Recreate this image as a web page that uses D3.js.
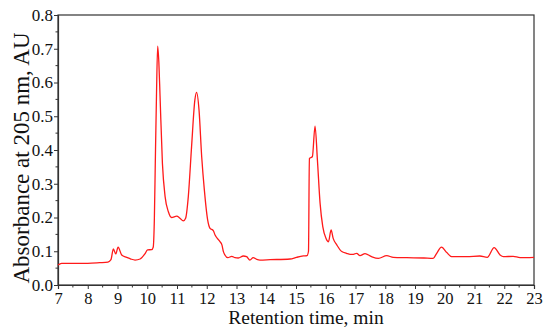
<!DOCTYPE html>
<html><head><meta charset="utf-8">
<script src="https://cdn.jsdelivr.net/npm/d3@7"></script>
<style>body{margin:0;background:#fff}svg{display:block}</style>
</head><body>
<svg id="c" width="550" height="335"></svg>
<script>
const times = [7.0,7.12,7.5,8.0,8.4,8.68,8.78,8.86,8.94,9.02,9.14,9.31,9.45,9.59,9.76,9.92,10.01,10.15,10.2,10.24,10.27,10.31,10.35,10.39,10.43,10.51,10.6,10.71,10.82,10.99,11.1,11.21,11.29,11.38,11.49,11.6,11.66,11.74,11.83,11.92,12.03,12.11,12.22,12.28,12.45,12.51,12.56,12.61,12.71,12.84,12.95,13.06,13.23,13.34,13.45,13.56,13.68,13.79,14.13,14.8,15.02,15.25,15.37,15.42,15.45,15.55,15.64,15.72,15.81,15.9,16.01,16.09,16.18,16.25,16.37,16.54,16.7,16.82,16.93,17.04,17.15,17.32,17.54,17.77,18.05,18.27,18.72,19.3,19.61,19.73,19.89,20.07,20.23,20.74,21.18,21.43,21.66,21.86,21.97,22.3,22.53,23.0];
const absorbance = [0.059,0.064,0.064,0.064,0.066,0.068,0.075,0.107,0.092,0.112,0.089,0.082,0.077,0.074,0.077,0.092,0.104,0.105,0.112,0.2,0.36,0.56,0.708,0.66,0.56,0.36,0.262,0.217,0.2,0.204,0.198,0.19,0.198,0.262,0.41,0.548,0.571,0.519,0.38,0.281,0.193,0.168,0.161,0.148,0.128,0.119,0.099,0.089,0.081,0.085,0.081,0.08,0.086,0.084,0.074,0.081,0.076,0.074,0.075,0.077,0.082,0.086,0.087,0.1,0.375,0.38,0.471,0.37,0.242,0.173,0.138,0.128,0.163,0.138,0.119,0.099,0.094,0.091,0.091,0.094,0.087,0.093,0.084,0.079,0.087,0.082,0.081,0.080,0.079,0.094,0.112,0.096,0.084,0.084,0.086,0.082,0.111,0.089,0.084,0.085,0.081,0.082];
const xTicks = [7,8,9,10,11,12,13,14,15,16,17,18,19,20,21,22,23];
const yTicks = [0.0,0.1,0.2,0.3,0.4,0.5,0.6,0.7,0.8];
const xLabel = "Retention time, min";
const yLabel = "Absorbance at 205 nm, AU";

const svg = d3.select("#c");
const L=58, R=534, T=15, B=285;
const x = d3.scaleLinear().domain([7,23]).range([L,R]);
const y = d3.scaleLinear().domain([0,0.8]).range([B,T]);
const font = "'Liberation Serif','Times New Roman',serif";

// frame
svg.append("rect").attr("x",L).attr("y",T).attr("width",R-L).attr("height",B-T)
  .attr("fill","none").attr("stroke","#333").attr("stroke-width",1.2);

// x axis
const xMinor = d3.range(7.5,23,1);
const gx = svg.append("g").attr("transform",`translate(0,${B})`);
gx.call(d3.axisBottom(x).tickValues(xTicks).tickFormat(d3.format("d")).tickSize(4).tickPadding(3));
gx.selectAll(".tick line").attr("stroke","#333");
gx.select(".domain").attr("stroke","#333").attr("stroke-width",1.2);
gx.selectAll("text").attr("font-family",font).attr("font-size",16.5).attr("fill","#111");
gx.selectAll(".minor").data(xMinor).enter().append("line")
  .attr("x1",d=>x(d)).attr("x2",d=>x(d)).attr("y1",0).attr("y2",2.5).attr("stroke","#333");

// y axis
const yMinor = d3.range(0.05,0.8,0.1);
const gy = svg.append("g").attr("transform",`translate(${L},0)`);
gy.call(d3.axisLeft(y).tickValues(yTicks).tickFormat(d3.format(".1f")).tickSize(4).tickPadding(1));
gy.selectAll(".tick line").attr("stroke","#333");
gy.select(".domain").attr("stroke","#333").attr("stroke-width",1.2);
gy.selectAll("text").attr("font-family",font).attr("font-size",17).attr("fill","#111");
gy.selectAll(".minor").data(yMinor).enter().append("line")
  .attr("y1",d=>y(d)).attr("y2",d=>y(d)).attr("x1",0).attr("x2",-2.5).attr("stroke","#333");

// line
const data = times.map((t,i)=>({t, v: absorbance[i]}));
svg.append("path").datum(data)
  .attr("fill","none").attr("stroke","#ff1a1a").attr("stroke-width",1.3)
  .attr("d", d3.line().x(d=>x(d.t)).y(d=>y(d.v)).curve(d3.curveMonotoneX));

// labels
svg.append("text").attr("x",306).attr("y",324).attr("text-anchor","middle")
  .attr("font-family",font).attr("font-size",19.5).attr("fill","#111").text(xLabel);
svg.append("text").attr("transform","translate(29,158) rotate(-90)").attr("text-anchor","middle")
  .attr("font-family",font).attr("font-size",23).attr("fill","#111").text(yLabel);
</script>
</body></html>
